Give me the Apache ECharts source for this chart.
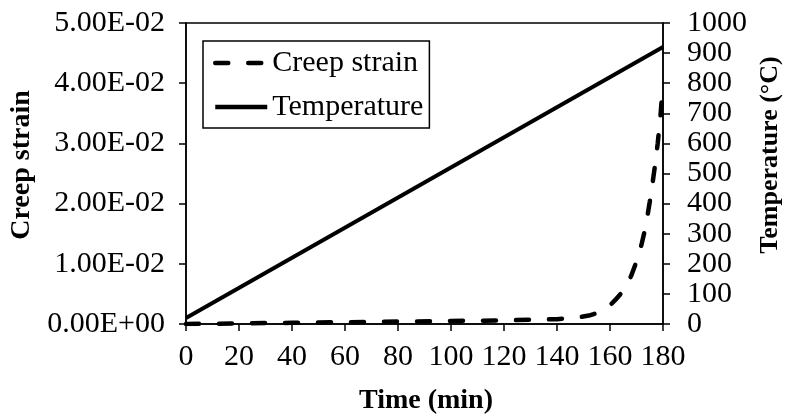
<!DOCTYPE html>
<html>
<head>
<meta charset="utf-8">
<script src="https://cdn.jsdelivr.net/npm/echarts@6/dist/echarts.min.js"></script>
<style>
  html, body { margin: 0; padding: 0; background: #fff; }
  #chart { width: 786px; height: 418px; }
</style>
</head>
<body>
<div id="chart"></div>
<script>
// Time axis (min)
const timeTicks = [0, 20, 40, 60, 80, 100, 120, 140, 160, 180];

// Creep strain vs time
const creepTime = [0, 20, 40, 60, 80, 100, 120, 140, 148, 152, 155, 158, 160, 162, 164, 166, 168, 170, 171, 172, 173, 174, 175, 176, 177, 178, 179, 180];
const creepStrain = [0, 0.0001, 0.0002, 0.0003, 0.0004, 0.0005, 0.0006, 0.0008, 0.0011, 0.0014, 0.0018, 0.0025, 0.0031, 0.0040, 0.0050, 0.0063, 0.0080, 0.0104, 0.0118, 0.0134, 0.0153, 0.0176, 0.0203, 0.0232, 0.0264, 0.0300, 0.0343, 0.0400];

// Furnace temperature vs time (°C)
const tempTime = [0, 180];
const tempValue = [20, 920];

// Axis tick labels
const strainTicks = [0, 0.01, 0.02, 0.03, 0.04, 0.05];
const tempTicks = [0, 100, 200, 300, 400, 500, 600, 700, 800, 900, 1000];

const FONT = '"Liberation Serif", "Times New Roman", serif';
const FS = 30;

function sciLabel(v) {
  if (v === 0) return '0.00E+00';
  const exp = Math.floor(Math.log10(Math.abs(v)) + 1e-9);
  const mant = v / Math.pow(10, exp);
  const sign = exp < 0 ? '-' : '+';
  const e = String(Math.abs(exp)).padStart(2, '0');
  return mant.toFixed(2) + 'E' + sign + e;
}

const chart = echarts.init(document.getElementById('chart'), null, { renderer: 'canvas' });

const axisLine = { show: true, lineStyle: { color: '#000', width: 1.5 } };
const axisTick = { show: true, inside: false, length: 7, lineStyle: { color: '#000', width: 1.5 } };

chart.setOption({
  backgroundColor: '#fff',
  animation: false,
  grid: {
    left: 186, right: 123, top: 23, bottom: 94,
    show: true, borderColor: '#000', borderWidth: 1.5, backgroundColor: 'transparent'
  },
  legend: {
    orient: 'vertical',
    left: 203, top: 41,
    padding: [6, 6, 5, 10],
    borderColor: '#000', borderWidth: 1.5,
    itemWidth: 52, itemHeight: 14, itemGap: 12,
    itemStyle: { opacity: 0 },
    lineStyle: { width: 4.5 },
    textStyle: { fontFamily: FONT, fontSize: FS, color: '#000', lineHeight: 32 },
    data: ['Creep strain', 'Temperature']
  },
  xAxis: {
    type: 'value',
    min: timeTicks[0], max: timeTicks[timeTicks.length - 1], interval: 20,
    axisLine, axisTick,
    splitLine: { show: false },
    axisLabel: { fontFamily: FONT, fontSize: FS, color: '#000', margin: 18 }
  },
  yAxis: [
    {
      type: 'value',
      min: strainTicks[0], max: strainTicks[strainTicks.length - 1], interval: 0.01,
      axisLine, axisTick,
      splitLine: { show: false },
      axisLabel: { fontFamily: FONT, fontSize: FS, color: '#000', margin: 21, formatter: sciLabel }
    },
    {
      type: 'value',
      position: 'right',
      min: tempTicks[0], max: tempTicks[tempTicks.length - 1], interval: 100,
      axisLine, axisTick,
      splitLine: { show: false },
      axisLabel: { fontFamily: FONT, fontSize: FS, color: '#000', margin: 24, formatter: v => String(v) }
    }
  ],
  graphic: [
    {
      type: 'text', x: 22, y: 165, rotation: Math.PI / 2,
      style: { text: 'Creep strain', font: 'bold 28px ' + FONT, fill: '#000', align: 'center', verticalAlign: 'middle' }
    },
    {
      type: 'text', x: 770, y: 155, rotation: Math.PI / 2,
      style: { text: 'Temperature (°C)', font: 'bold 26px ' + FONT, fill: '#000', align: 'center', verticalAlign: 'middle' }
    },
    {
      type: 'text', x: 426, y: 401,
      style: { text: 'Time (min)', font: 'bold 28px ' + FONT, fill: '#000', align: 'center', verticalAlign: 'middle' }
    }
  ],
  series: [
    {
      name: 'Creep strain',
      type: 'line',
      yAxisIndex: 0,
      data: creepTime.map((t, i) => [t, creepStrain[i]]),
      symbol: 'none',
      color: '#000',
      lineStyle: { color: '#000', width: 4.5, type: [13, 20], cap: 'round' },
      z: 3
    },
    {
      name: 'Temperature',
      type: 'line',
      yAxisIndex: 1,
      data: tempTime.map((t, i) => [t, tempValue[i]]),
      symbol: 'none',
      color: '#000',
      lineStyle: { color: '#000', width: 4, type: 'solid' },
      z: 3
    }
  ]
});
</script>
</body>
</html>
